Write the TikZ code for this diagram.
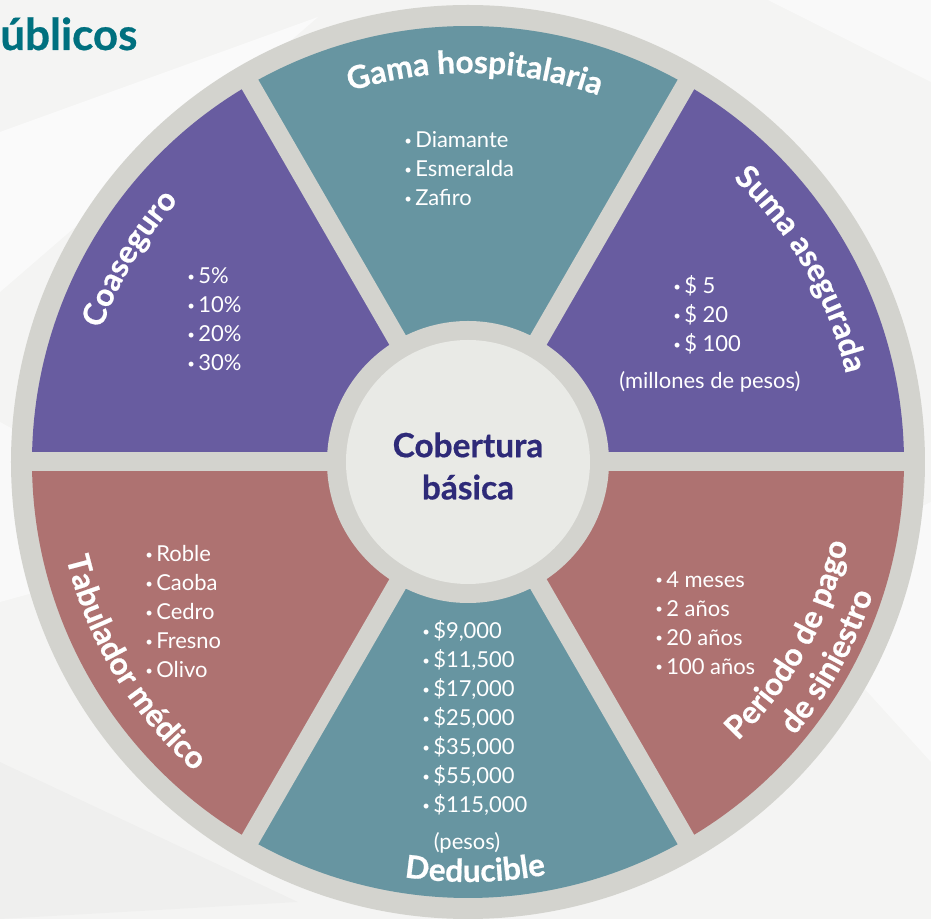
\documentclass[tikz,border=0pt]{standalone}
\usepackage{fontspec}
\setmainfont{Lato}
\newfontfamily\dickfont[BoldFeatures={FakeBold=0.6}]{Lato}
\usetikzlibrary{decorations.text}

% Farben
\definecolor{tuerkis}{HTML}{6795A1}
\definecolor{lila}{HTML}{685CA0}
\definecolor{rosa}{HTML}{AE7271}
\definecolor{ring}{HTML}{D3D3CE}
\definecolor{mitte}{HTML}{E9EAE6}
\definecolor{marine}{HTML}{2E2A78}
\definecolor{petrol}{HTML}{00707F}
\definecolor{hinter}{HTML}{F4F4F3}

\newcommand\listfont{\fontsize{12.5}{16.5}\selectfont}
\newcommand\titelfont{\dickfont\bfseries\fontsize{18}{21}\selectfont}
\newcommand\punkt{\raisebox{0.1em}{\scalebox{0.6}{•}}\hspace{0.15em}}

\begin{document}
\begin{tikzpicture}[
    x=0.02cm, y=0.02cm,
    % Stile
    liste/.style={text=white, font=\listfont, align=left, anchor=north west, inner sep=0pt},
    notiz/.style={text=white, font=\listfont, inner sep=0pt},
    bogen/.style={decorate, decoration={text along path, text align=center, text={|\titelfont\color{white}|#1}}},
    zentrum/.style={text=marine, font=\dickfont\bfseries\fontsize{19}{24}\selectfont, align=center}
]

    % ==========================================
    % HINTERGRUND
    % ==========================================
    \useasboundingbox (-468,-457) rectangle (463,462);
    \fill[hinter] (-468,-457) rectangle (463,462);
    \fill[white, opacity=0.6] (-468,330) -- (-150,445) -- (-468,170) -- cycle;
    \fill[white, opacity=0.5] (-468,40) -- (-250,-80) -- (-468,-140) -- cycle;
    \fill[white, opacity=0.5] (300,462) -- (463,380) -- (463,462) -- cycle;
    \fill[white, opacity=0.5] (300,-120) -- (463,-40) -- (463,-300) -- cycle;
    \fill[black, opacity=0.02] (-468,-300) -- (-170,-440) -- (-468,-457) -- cycle;

    \node[font=\dickfont\bfseries\fontsize{25}{30}\selectfont, text=petrol, anchor=base west, inner sep=0pt] (titel) at (-468,412) {úblicos};

    % ==========================================
    % RING UND SEKTOREN
    % ==========================================
    \fill[ring] (0,0) circle (457);

    \fill[lila]    (0,0) -- (0:436)   arc[start angle=0,   end angle=60,  radius=436] -- cycle;
    \fill[tuerkis] (0,0) -- (60:436)  arc[start angle=60,  end angle=120, radius=436] -- cycle;
    \fill[lila]    (0,0) -- (120:436) arc[start angle=120, end angle=180, radius=436] -- cycle;
    \fill[rosa]    (0,0) -- (180:436) arc[start angle=180, end angle=240, radius=436] -- cycle;
    \fill[tuerkis] (0,0) -- (240:436) arc[start angle=240, end angle=300, radius=436] -- cycle;
    \fill[rosa]    (0,0) -- (300:436) arc[start angle=300, end angle=360, radius=436] -- cycle;

    % Trennstreifen
    \foreach \w in {0,60,...,300}
        \draw[ring, line width=0.38cm] (0,0) -- (\w:440);

    % Mitte
    \fill[ring] (0,0) circle (141);
    \fill[mitte] (0,0) circle (122);
    \node[zentrum] (kern) at (0,-4) {Cobertura\\básica};

    % ==========================================
    % TITEL AUF DEN BOGEN
    % ==========================================
    \path[bogen={Gama hospitalaria}] (124:389) arc[start angle=124, end angle=54, radius=389];
    \path[bogen={Suma asegurada}] (65:388) arc[start angle=65, end angle=-5, radius=388];
    \path[bogen={Coaseguro}] (184:390) arc[start angle=184, end angle=114, radius=390];
    \path[bogen={Tabulador médico}] (176:413) arc[start angle=176, end angle=246, radius=413];
    \path[bogen={Deducible}] (236:420) arc[start angle=236, end angle=306, radius=420];
    \path[bogen={Periodo de pago}] (-64:388) arc[start angle=-64, end angle=6, radius=388];
    \path[bogen={de siniestro}] (-64:426) arc[start angle=-64, end angle=6, radius=426];

    % ==========================================
    % LISTEN
    % ==========================================
    \node[liste] (gama) at (-64,331) {\punkt Diamante\\ \punkt Esmeralda\\ \punkt Zafiro};
    \node[liste] (coaseguro) at (-281,195) {\punkt 5\%\\ \punkt 10\%\\ \punkt 20\%\\ \punkt 30\%};
    \node[liste] (suma) at (205,187) {\punkt \$ 5\\ \punkt \$ 20\\ \punkt \$ 100};
    \node[notiz] (millones) at (242,80) {(millones de pesos)};
    \node[liste] (tabulador) at (-323,-83) {\punkt Roble\\ \punkt Caoba\\ \punkt Cedro\\ \punkt Fresno\\ \punkt Olivo};
    \node[liste] (periodo) at (187,-109) {\punkt 4 meses\\ \punkt 2 años\\ \punkt 20 años\\ \punkt 100 años};
    \node[liste] (deducible) at (-46,-158) {\punkt \$9,000\\ \punkt \$11,500\\ \punkt \$17,000\\ \punkt \$25,000\\ \punkt \$35,000\\ \punkt \$55,000\\ \punkt \$115,000};
    \node[notiz] (pesos) at (-1,-381) {(pesos)};

\end{tikzpicture}
\end{document}
